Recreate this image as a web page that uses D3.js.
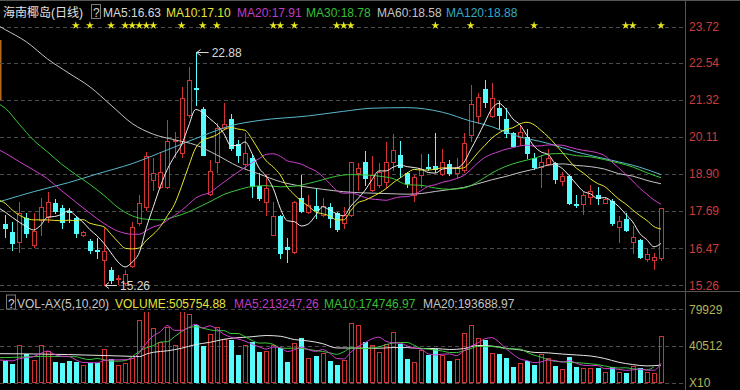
<!DOCTYPE html>
<html><head><meta charset="utf-8">
<script src="https://cdn.jsdelivr.net/npm/d3@7"></script>
<style>html,body{margin:0;padding:0;background:#000;overflow:hidden}svg{display:block}</style>
</head><body>
<svg id="c" width="740" height="390"></svg>
<script>
// ---------- data ----------
const stockTitle = "海南椰岛(日线)";
const open  = [17.25,17.01,16.69,17.45,16.58,17.40,17.50,17.96,17.78,17.68,
  17.45,16.91,16.72,16.42,16.09,15.76,15.43,15.35,15.89,17.31,
  17.83,18.70,18.49,18.49,19.96,19.58,20.83,21.70,21.03,18.25,
  19.30,20.39,20.70,19.87,19.23,19.41,18.51,17.99,16.91,17.53,
  16.50,16.36,18.10,17.67,17.85,17.56,17.83,17.64,17.31,17.56,
  18.92,19.30,18.38,18.54,18.65,19.30,19.52,18.94,18.21,18.87,
  19.14,19.16,18.90,19.22,18.92,19.03,20.18,20.80,21.67,20.80,
  21.05,20.69,20.23,20.10,20.12,19.41,19.12,19.23,19.25,18.68,
  18.84,17.91,17.92,18.16,18.21,17.96,18.03,17.18,17.42,16.69,
  16.74,16.12,16.09,16.14];
const high  = [17.56,17.34,18.00,17.61,17.61,18.10,18.32,18.07,17.89,17.78,
  17.50,17.05,16.76,16.80,17.12,15.87,15.60,15.75,17.34,18.21,
  19.63,19.41,19.63,20.67,20.28,21.76,22.41,22.88,21.10,19.36,
  20.56,21.23,20.86,20.01,20.25,19.52,18.92,18.87,17.99,17.56,
  16.80,18.02,18.87,18.21,18.43,18.10,17.96,17.67,17.83,19.30,
  19.27,19.65,19.49,19.27,19.93,20.20,19.98,18.97,18.87,19.55,
  19.55,20.23,19.71,19.36,19.41,20.23,21.81,21.54,21.97,21.89,
  21.30,21.05,20.26,20.50,20.36,19.58,19.52,19.71,19.30,18.98,
  18.87,18.21,18.32,18.54,18.49,18.16,18.07,17.53,17.61,17.20,
  16.76,16.47,16.33,17.78];
const low   = [16.85,16.42,16.36,16.85,16.52,16.90,17.34,17.61,17.12,17.34,
  16.83,16.87,16.31,16.14,15.26,15.33,15.30,15.27,15.85,17.23,
  17.72,18.38,18.43,18.43,19.47,19.47,20.75,21.16,19.52,18.21,
  18.98,20.36,19.69,19.30,19.09,18.14,18.05,17.56,16.91,16.14,
  16.03,16.31,17.67,17.61,17.45,17.51,17.18,17.05,17.12,17.54,
  18.38,18.54,18.36,18.49,18.49,19.03,18.81,18.49,18.02,18.49,
  19.02,18.98,18.87,18.87,18.76,18.98,19.99,20.56,21.10,20.78,
  20.39,20.12,19.80,19.85,19.41,19.05,18.49,19.20,18.62,18.54,
  17.92,17.83,17.59,17.91,17.91,17.94,17.23,16.69,17.05,16.31,
  16.14,16.07,15.78,16.10];
const close = [17.12,16.63,17.61,16.96,17.05,17.83,17.99,17.70,17.34,17.65,
  16.96,17.01,16.42,16.37,16.39,15.43,15.50,15.63,17.16,17.94,
  19.49,18.92,18.98,19.99,20.01,21.37,21.99,21.67,19.52,19.00,
  20.39,20.52,19.74,19.52,19.58,18.51,18.10,18.43,17.53,16.33,
  16.44,17.99,17.70,17.87,17.72,17.85,17.45,17.09,17.56,19.28,
  19.09,18.76,18.87,18.98,19.28,19.69,19.14,18.62,18.81,19.06,
  19.10,19.05,19.28,18.94,19.14,19.90,21.19,21.41,21.27,21.37,
  20.83,20.23,19.82,20.28,19.58,19.14,19.28,19.41,18.73,18.84,
  17.96,17.89,18.21,18.36,18.10,18.08,17.29,17.37,17.07,16.83,
  16.20,16.28,16.18,17.78];
// volume in axis units (x10)
const volume = [23890,20960,41600,31820,24610,40940,34390,22800,22080,23890,
  22800,19900,21350,21350,36560,26420,19900,22080,27150,68050,
  78910,59720,44520,60800,41600,78910,75290,62610,40170,52840,
  60800,48100,46360,30730,40940,44520,33660,34390,41600,38000,
  22800,43430,48860,27150,29320,32570,23890,19900,24610,65500,
  63330,44520,41600,33660,42700,55370,42700,26420,22800,35460,
  30730,36560,30730,23890,26420,54650,62610,48860,47060,32570,
  31490,27150,17370,21720,23890,19900,31820,27150,18460,15560,
  28230,17370,16290,16290,16290,11940,17370,11940,11220,18460,
  16290,11940,10860,50575];

// moving averages (first value belongs to day -1)
const ma5 = [17.80,17.65,17.48,17.32,17.18,17.07,17.22,17.49,17.51,17.58,17.70,
  17.53,17.33,17.08,16.88,16.63,16.32,16.02,15.86,16.02,16.33,
  17.14,17.83,18.50,19.06,19.48,19.85,20.47,21.01,20.91,20.71,
  20.51,20.22,19.83,19.83,19.95,19.57,19.09,18.83,18.43,17.78,
  17.37,17.34,17.20,17.27,17.54,17.83,17.72,17.60,17.53,17.85,
  18.09,18.36,18.71,19.00,19.00,19.12,19.19,19.14,19.11,19.06,
  18.95,18.93,19.06,19.09,19.10,19.26,19.69,20.12,20.58,21.03,
  21.21,21.02,20.70,20.51,20.15,19.81,19.62,19.54,19.23,19.08,
  18.84,18.57,18.33,18.25,18.10,18.13,18.01,17.84,17.58,17.33,
  16.95,16.75,16.52,16.63];
const ma10 = [18.05,17.94,17.72,17.55,17.45,17.40,17.40,17.40,17.38,17.37,17.39,
  17.37,17.41,17.29,17.23,17.17,16.93,16.68,16.47,16.45,16.48,
  16.73,16.93,17.18,17.54,17.91,18.50,19.15,19.75,19.99,20.09,
  20.18,20.34,20.42,20.37,20.33,20.04,19.66,19.33,19.13,18.87,
  18.47,18.22,18.01,17.85,17.66,17.60,17.53,17.40,17.40,17.70,
  17.96,18.04,18.15,18.27,18.42,18.61,18.77,18.93,19.05,19.03,
  19.03,19.06,19.10,19.10,19.08,19.10,19.31,19.59,19.83,20.07,
  20.24,20.36,20.41,20.54,20.59,20.51,20.32,20.12,19.87,19.61,
  19.33,19.09,18.93,18.74,18.59,18.49,18.29,18.08,17.92,17.72,
  17.54,17.38,17.18,17.10];
// [day, value]
const ma20 = [[-1,19.70],[0,19.58],[2,19.30],[4,19.03],[6,18.74],[8,18.35],[10,17.98],[12,17.62],[14,17.28],[16,17.03],[18,16.93],
  [19,16.93],[20,17.05],[21,17.17],[22,17.24],[23,17.39],[24,17.54],[25,17.71],[26,17.91],[27,18.11],[28,18.22],[29,18.29],
  [30,18.46],[31,18.63],[32,18.80],[33,18.96],[34,19.12],[35,19.27],[36,19.40],[37,19.54],[38,19.56],[39,19.48],
  [40,19.33],[41,19.28],[42,19.22],[43,19.11],[44,19.00],[45,18.82],[46,18.59],[47,18.36],[48,18.27],[49,18.28],
  [50,18.22],[51,18.13],[52,18.08],[53,18.06],[54,18.04],[55,18.10],[56,18.15],[57,18.16],[58,18.23],[59,18.36],
  [60,18.50],[61,18.55],[62,18.63],[63,18.68],[64,18.75],[65,18.85],[66,19.04],[67,19.26],[68,19.44],[69,19.55],
  [70,19.63],[71,19.71],[72,19.76],[73,19.82],[74,19.84],[75,19.81],[76,19.82],[77,19.85],[78,19.85],[79,19.84],
  [80,19.78],[81,19.72],[82,19.67],[83,19.64],[84,19.59],[85,19.50],[86,19.30],[87,19.10],[88,18.89],[89,18.67],
  [90,18.43],[91,18.24],[92,18.05],[93,17.91]];
const ma30 = [[-1,21.20],[0,21.05],[2,20.52],[4,20.01],[6,19.62],[8,19.22],[10,18.88],[12,18.56],[14,18.20],[16,17.80],[18,17.53],
  [20,17.42],[22,17.40],[24,17.50],[26,17.66],[28,17.88],[29,17.99],[31,18.23],[33,18.38],[35,18.49],[37,18.52],[39,18.48],
  [41,18.50],[43,18.59],[45,18.71],[47,18.83],[49,18.88],[51,18.87],[53,18.83],[55,18.75],[57,18.55],[59,18.53],
  [61,18.44],[63,18.40],[65,18.44],[67,18.64],[69,18.93],[71,19.15],[73,19.30],[75,19.41],[77,19.55],[79,19.57],
  [81,19.50],[83,19.46],[85,19.37],[87,19.26],[89,19.13],[91,18.94],[93,18.78]];
const ma60 = [[-1,23.75],[0,23.62],[3,23.22],[6,22.66],[9,22.20],[12,21.75],[15,21.15],[18,20.55],[21,20.20],[24,20.02],
  [27,19.85],[30,19.52],[33,19.15],[36,18.90],[39,18.65],[42,18.50],[45,18.40],[48,18.32],[51,18.28],[54,18.26],[57,18.24],
  [59,18.26],[61,18.33],[63,18.39],[65,18.46],[67,18.58],[69,18.71],[71,18.82],[73,18.95],[75,19.06],[77,19.19],[79,19.23],
  [81,19.18],[83,19.14],[85,19.06],[87,18.91],[89,18.83],[91,18.69],[93,18.58]];
const ma120 = [[-1,17.98],[0,18.05],[4,18.32],[9,18.62],[13,18.90],[18,19.24],[23,19.69],[28,20.15],[32,20.48],[36,20.65],
  [43,20.80],[48,20.95],[52,21.05],[57,21.07],[62,20.92],[66,20.63],[69,20.45],[72,20.18],[77,19.90],[81,19.62],
  [86,19.35],[90,19.12],[93,18.88]];

// volume moving averages (axis units), first value belongs to day -1
const volMa5 = [25000,24500,24000,26500,27500,28600,32000,34700,30900,29000,28800,25200,22300,22000,21900,
  24400,25100,25100,25300,26400,32700,43200,51200,55700,62400,
  57100,57100,60200,63800,59700,62000,58300,52900,49700,47800,
  45400,42100,39200,36800,39000,38400,34100,36000,38900,36100,
  34300,36300,32400,26600,26100,33300,39400,43600,47900,49700,
  45200,43600,43200,40200,38000,36600,31600,30400,31300,31500,
  29700,34500,39700,43300,47900,49200,44500,37500,31200,26100,
  24300,22000,22900,24900,24300,22600,24300,21400,19200,18800,
  18900,15600,15600,14800,13700,14200,15100,14000,13800,21325];
const volMa10 = [27500,27600,27800,28000,28300,28600,28800,28900,28800,28700,
  28600,28500,26500,25400,26600,25200,23700,23700,24200,
  28600,34200,38200,40500,44400,44900,50200,55700,59800,61100,
  59500,57700,56600,56800,53700,53700,50200,46100,43300,43400,
  41900,38100,37600,37900,37500,36400,35200,34200,32800,31100,
  33800,37900,38000,37200,37900,39200,41500,43400,44000,43900,
  40900,37600,36800,35700,34700,33100,33000,35000,37300,39700,
  39400,39500,38600,37200,37000,36800,33300,30200,28000,25200,
  23500,23100,22200,22100,21500,20800,20000,18500,17000,16300,
  16500,15400,14800,14300,17475];
const volMa20 = [[-1,31800],[4,31500],[9,30800],[14,29800],[18,28900],[19,28600],[20,31400],[21,33300],[23,34900],
  [25,37700],[27,41700],[29,44100],[31,47400],[33,49100],[35,50200],[37,51500],[39,50700],[41,47100],[43,45600],
  [45,42700],[47,38000],[49,37900],[51,37800],[53,37700],[55,38400],[57,38400],[59,37300],[61,37400],[63,36300],
  [65,37300],[67,40700],[69,40100],[71,37700],[73,35900],[75,33200],[77,32700],[79,31400],[81,30400],[83,29300],
  [85,26600],[87,22500],[89,20000],[91,18500],[93,19369]];

const priceTicks = [23.72, 22.54, 21.32, 20.11, 18.90, 17.69, 16.47, 15.26];
const volTicks = [79929, 40512, 0];
const starDays = [10,12,15,17,18,19,20,21,25,28,30,38,39,41,47,48,49,61,66,75,88,89,93];
const peakLabel = {day: 27, value: 22.88};
const troughLabel = {day: 14, value: 15.26};

const titleItems = [
  {t: "MA5:16.63", c: "#d8d8d8"}, {t: "MA10:17.10", c: "#e4e43c"}, {t: "MA20:17.91", c: "#c23cc2"},
  {t: "MA30:18.78", c: "#34c034"}, {t: "MA60:18.58", c: "#c4c4c4"}, {t: "MA120:18.88", c: "#32aac8"}];
const volTitleItems = [
  {t: "VOL-AX(5,10,20)", c: "#c8c8c8"}, {t: "VOLUME:505754.88", c: "#e4e43c"}, {t: "MA5:213247.26", c: "#c23cc2"},
  {t: "MA10:174746.97", c: "#34c034"}, {t: "MA20:193688.97", c: "#c4c4c4"}];

// ---------- drawing ----------
const W = 740, H = 390, PR = 685;
const FONT = "'Liberation Sans', Arial, 'Noto Sans CJK SC', sans-serif";
const RED = "#d23434", CYAN = "#54fcfc", GRID = "#4c4c4c", FRAME = "#555";
const svg = d3.select("#c");
svg.append("rect").attr("width", W).attr("height", H).attr("fill", "#000");

const x = d3.scaleLinear().domain([0, close.length - 1]).range([5.3, 661]);
const y = d3.scaleLinear().domain([15.26, 23.72]).range([285.3, 26.6]);
const yv = d3.scaleLinear().domain([0, 79929]).range([383, 309.3]);

const defs = svg.append("defs");
defs.append("clipPath").attr("id", "clipP").append("rect").attr("x", 0).attr("y", 21).attr("width", PR - 1).attr("height", 270);
defs.append("clipPath").attr("id", "clipV").append("rect").attr("x", 0).attr("y", 312).attr("width", PR - 1).attr("height", 72);

// frame
svg.append("line").attr("x1", 0).attr("x2", W).attr("y1", 0.5).attr("y2", 0.5).attr("stroke", FRAME);
svg.append("line").attr("x1", 0).attr("x2", W).attr("y1", 291.5).attr("y2", 291.5).attr("stroke", FRAME);
svg.append("line").attr("x1", PR + 0.5).attr("x2", PR + 0.5).attr("y1", 0).attr("y2", H).attr("stroke", FRAME);
svg.append("rect").attr("x", 0).attr("y", 40).attr("width", 1.5).attr("height", 60).attr("fill", "#b8661a");

// grids
svg.append("g").selectAll("line").data(priceTicks).join("line")
  .attr("x1", 0).attr("x2", PR - 1)
  .attr("y1", d => Math.round(y(d)) + 0.5).attr("y2", d => Math.round(y(d)) + 0.5)
  .attr("stroke", GRID).attr("stroke-dasharray", "4,3");
svg.append("g").selectAll("line").data(volTicks).join("line")
  .attr("x1", 0).attr("x2", PR - 1)
  .attr("y1", d => Math.round(yv(d)) + 0.5).attr("y2", d => Math.round(yv(d)) + 0.5)
  .attr("stroke", GRID).attr("stroke-dasharray", "4,3");

// axes
const ga = svg.append("g").attr("transform", `translate(${PR},0)`)
  .call(d3.axisRight(y).tickValues(priceTicks).tickFormat(d3.format(".2f")).tickSize(0).tickPadding(4));
ga.select(".domain").remove();
ga.attr("font-size", 12).attr("font-family", FONT);
ga.selectAll("text").attr("fill", "#cc3c3c");
const gv = svg.append("g").attr("transform", `translate(${PR},0)`)
  .call(d3.axisRight(yv).tickValues(volTicks).tickFormat(d => d === 0 ? "X10" : d3.format("d")(d)).tickSize(0).tickPadding(4));
gv.select(".domain").remove();
gv.attr("font-size", 12).attr("font-family", FONT);
gv.selectAll("text").attr("fill", "#b4b45a");

// candles
const days = d3.range(close.length);
const isUp = i => close[i] >= open[i];
const gc = svg.append("g").attr("clip-path", "url(#clipP)");
days.forEach(i => {
  const cx = Math.round(x(i));
  const col = isUp(i) ? RED : CYAN;
  gc.append("line").attr("x1", cx + 0.5).attr("x2", cx + 0.5)
    .attr("y1", Math.round(y(high[i]))).attr("y2", Math.round(y(low[i])) + 1).attr("stroke", col);
  let ty = Math.round(y(Math.max(open[i], close[i])));
  let by = Math.round(y(Math.min(open[i], close[i])));
  if (by - ty < 1) by = ty + 1;
  if (!isUp(i) || by - ty <= 2) {
    gc.append("rect").attr("x", cx - 2).attr("y", ty).attr("width", 5).attr("height", by - ty + (isUp(i) ? 0 : 1)).attr("fill", col);
  } else {
    gc.append("rect").attr("x", cx - 1.5).attr("y", ty + 0.5).attr("width", 4).attr("height", by - ty)
      .attr("fill", "#000").attr("stroke", col);
  }
});

// MA lines
const lineP = d3.line().x(d => x(d[0])).y(d => y(d[1])).curve(d3.curveMonotoneX);
const fromArr = a => a.map((v, k) => [k - 1, v]);
const gl = svg.append("g").attr("clip-path", "url(#clipP)").attr("fill", "none").attr("stroke-width", 1);
[[ma120, "#5ab8cc"], [ma60, "#c4c4c4"], [ma30, "#3cc83c"], [ma20, "#d040d0"], [fromArr(ma10), "#e8e830"], [fromArr(ma5), "#eeeeee"]]
  .forEach(([d, c]) => gl.append("path").attr("d", lineP(d)).attr("stroke", c));

// stars
svg.append("g").selectAll("path").data(starDays).join("path")
  .attr("transform", d => `translate(${x(d)},25.5)`)
  .attr("d", d3.symbol(d3.symbolStar, 20)).attr("fill", "#e6e61e");

// extreme labels
function extreme(lbl) {
  const tx = x(lbl.day) + 1, ty = Math.round(y(lbl.value)) + 0.5;
  const g = svg.append("g").attr("stroke", "#d8d8d8").attr("fill", "none");
  g.append("line").attr("x1", tx).attr("x2", tx + 12).attr("y1", ty).attr("y2", ty);
  g.append("polyline").attr("points", `${tx + 4},${ty - 3} ${tx},${ty} ${tx + 4},${ty + 3}`);
  svg.append("text").attr("x", tx + 15).attr("y", ty + 4.5).attr("fill", "#d8d8d8")
    .attr("font-size", 12).attr("font-family", FONT).text(d3.format(".2f")(lbl.value));
}
extreme(peakLabel);
extreme(troughLabel);

// volume bars
const gvb = svg.append("g").attr("clip-path", "url(#clipV)");
days.forEach(i => {
  const cx = Math.round(x(i));
  const ty = Math.round(yv(volume[i])), by = Math.round(yv(0));
  if (isUp(i)) {
    gvb.append("rect").attr("x", cx - 1.5).attr("y", ty + 0.5).attr("width", 4).attr("height", by - ty - 1)
      .attr("fill", "none").attr("stroke", RED);
  } else {
    gvb.append("rect").attr("x", cx - 2).attr("y", ty).attr("width", 5).attr("height", by - ty).attr("fill", CYAN);
  }
});
const lineV = d3.line().x(d => x(d[0])).y(d => yv(d[1])).curve(d3.curveMonotoneX);
const gvl = svg.append("g").attr("clip-path", "url(#clipV)").attr("fill", "none");
[[volMa20, "#e6e6e6"], [fromArr(volMa10), "#3cc83c"], [fromArr(volMa5), "#d040d0"]]
  .forEach(([d, c]) => gvl.append("path").attr("d", lineV(d)).attr("stroke", c));

// titles
function titleRow(yb, boxX, items, xs) {
  svg.append("rect").attr("x", boxX + 0.5).attr("y", yb - 12.5).attr("width", 9).attr("height", 14)
    .attr("fill", "none").attr("stroke", "#7a7a7a");
  svg.append("text").attr("x", boxX + 2).attr("y", yb).attr("fill", "#d0d0d0")
    .attr("font-size", 12).attr("font-family", FONT).text("?");
  items.forEach((it, k) => {
    svg.append("text").attr("x", xs[k]).attr("y", yb).attr("fill", it.c)
      .attr("font-size", 12).attr("font-family", FONT).text(it.t);
  });
}
svg.append("text").attr("x", 3).attr("y", 17).attr("fill", "#e0e0e0")
  .attr("font-size", 12).attr("font-family", FONT).text(stockTitle);
titleRow(17, 91, titleItems, [103, 166, 237, 306, 377, 446]);
titleRow(307.5, 6, volTitleItems, [17, 115, 234, 324, 423]);
</script>
</body></html>
